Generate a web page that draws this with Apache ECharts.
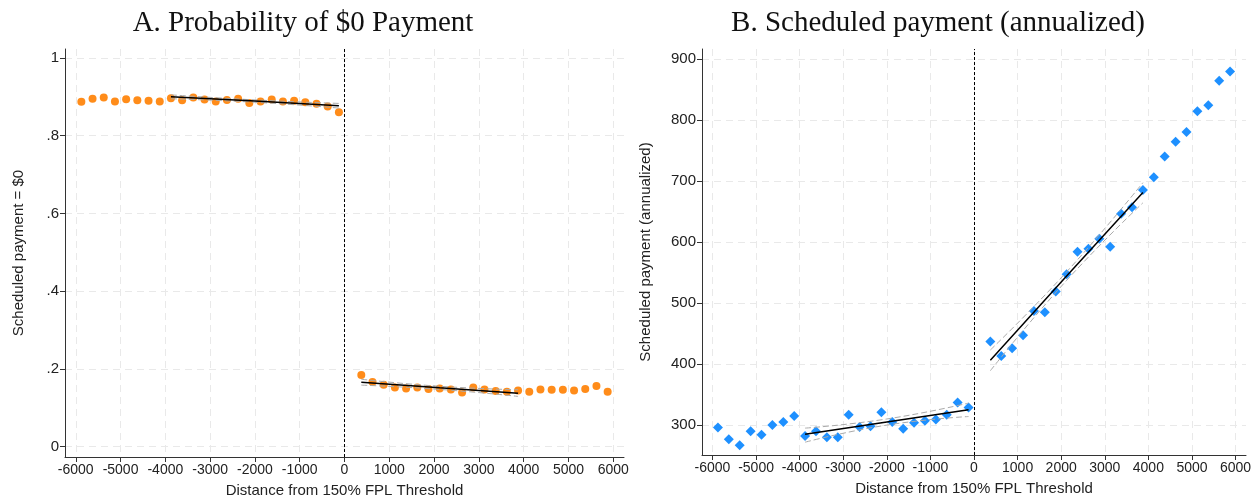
<!DOCTYPE html>
<html>
<head>
<meta charset="utf-8">
<script src="https://cdn.jsdelivr.net/npm/echarts@6/dist/echarts.min.js"></script>
<style>
html,body{margin:0;padding:0;background:#fff;}
#chart{width:1258px;height:499px;}
</style>
</head>
<body>
<div id="chart"></div>
<script>
// ---- Data ----
const binsLeft = [-5875,-5625,-5375,-5125,-4875,-4625,-4375,-4125,-3875,-3625,-3375,-3125,-2875,-2625,-2375,-2125,-1875,-1625,-1375,-1125,-875,-625,-375,-125];
const binsRight = [375,625,875,1125,1375,1625,1875,2125,2375,2625,2875,3125,3375,3625,3875,4125,4375,4625,4875,5125,5375,5625,5875];

const probLeft = [0.887,0.895,0.898,0.888,0.894,0.891,0.890,0.888,0.896,0.891,0.898,0.893,0.888,0.892,0.895,0.884,0.888,0.893,0.888,0.890,0.886,0.882,0.875,0.860];
const probRight = [0.184,0.166,0.159,0.152,0.149,0.152,0.148,0.149,0.147,0.139,0.152,0.147,0.143,0.141,0.144,0.141,0.147,0.146,0.146,0.144,0.148,0.156,0.141];

const payLeft = [296,277,267,290,284,300,305,315,282,290,280,280,317,297,298,321,305,294,304,307,309,317,337,329];
const payRight = [437,413,426,447,487,485,519,547,584,589,605,592,646,657,685,706,740,764,780,814,824,864,879];

// fitted lines and confidence bands (start, middle, end)
const fitXLeft = [-3875,-2000,-125];
const fitXRight = [375,2125,3875];

const probFitL = [0.900,0.889,0.877];
const probFitLUp = [0.905,0.892,0.883];
const probFitLLo = [0.895,0.886,0.871];
const probFitR = [0.1656,0.151,0.1373];
const probFitRUp = [0.173,0.155,0.146];
const probFitRLo = [0.158,0.147,0.129];

const payFitL = [285,305,325];
const payFitLUp = [295,310,336];
const payFitLLo = [272,300,314];
const payFitR = [406,544,681];
const payFitRUp = [423,551,697];
const payFitRLo = [389,537,664];

const xTicks = [-6000,-5000,-4000,-3000,-2000,-1000,0,1000,2000,3000,4000,5000,6000];
const probTicks = [0,0.2,0.4,0.6,0.8,1];
const payTicks = [300,400,500,600,700,800,900];

const titleA = 'A. Probability of $0 Payment';
const titleB = 'B. Scheduled payment (annualized)';
const xName = 'Distance from 150% FPL Threshold';
const yNameA = 'Scheduled payment = $0';
const yNameB = 'Scheduled payment (annualized)';

// ---- helpers ----
const zip = (xs, ys) => xs.map((x, i) => [x, ys[i]]);
const sans = 'Liberation Sans, Arial, sans-serif';
const gridLine = {show:true, lineStyle:{color:'#e9e9e9', type:[7,5], width:1}};

function xAxis(gridIndex){
  return {
    type:'value', gridIndex, min:-6240, max:6240,
    axisLine:{show:true, onZero:false, lineStyle:{color:'#333', width:1}},
    axisTick:{show:true, length:5, customValues:xTicks, lineStyle:{color:'#333'}},
    axisLabel:{customValues:xTicks, color:'#222', fontSize:14, fontFamily:sans, margin:6, formatter: v => '' + v},
    splitLine:gridLine,
    name:xName, nameLocation:'middle', nameGap:26,
    nameTextStyle:{color:'#222', fontSize:15, fontFamily:sans}
  };
}
function yAxis(gridIndex, min, max, ticks, name, gap, fmt){
  return {
    type:'value', gridIndex, min, max,
    axisLine:{show:true, onZero:false, lineStyle:{color:'#333', width:1}},
    axisTick:{show:true, length:5, customValues:ticks, lineStyle:{color:'#333'}},
    axisLabel:{customValues:ticks, color:'#222', fontSize:15, fontFamily:sans, margin:6, formatter:fmt},
    splitLine:gridLine,
    name, nameLocation:'middle', nameGap:gap, nameRotate:90,
    nameTextStyle:{color:'#222', fontSize:15, fontFamily:sans}
  };
}
const probFmt = v => { if (Math.abs(v) < 1e-9) return '0'; if (Math.abs(v-1) < 1e-9) return '1'; return ('' + (+v.toFixed(1))).replace(/^0\./, '.'); };

function fitSeries(xi, yi, xs, ys, color, width, dashed, smooth){
  return {
    type:'line', xAxisIndex:xi, yAxisIndex:yi, data:zip(xs, ys), symbol:'none', smooth:smooth,
    lineStyle:{color, width, type: dashed ? [6,3] : 'solid'}, z: dashed ? 3 : 4, silent:true, animation:false
  };
}
const threshold = {
  silent:true, symbol:'none', animation:false,
  label:{show:false},
  lineStyle:{color:'#000', type:[3,2], width:1},
  data:[{xAxis:0}]
};

const option = {
  animation:false,
  backgroundColor:'#fff',
  graphic:[
    {type:'text', x:303, y:23, style:{text:titleA, fontSize:29, fontFamily:'Liberation Serif, serif', fill:'#111', align:'center', verticalAlign:'middle'}},
    {type:'text', x:938, y:23, style:{text:titleB, fontSize:29, fontFamily:'Liberation Serif, serif', fill:'#111', align:'center', verticalAlign:'middle'}}
  ],
  grid:[
    {left:65, top:49, width:559, height:408, containLabel:false, outerBoundsMode:'none'},
    {left:702, top:49, width:544, height:406, containLabel:false, outerBoundsMode:'none'}
  ],
  xAxis:[xAxis(0), xAxis(1)],
  yAxis:[
    yAxis(0, -0.027, 1.023, probTicks, yNameA, 39, probFmt),
    yAxis(1, 251, 916, payTicks, yNameB, 49, v => '' + v)
  ],
  series:[
    {type:'scatter', xAxisIndex:0, yAxisIndex:0, data:zip(binsLeft, probLeft), symbol:'circle', symbolSize:8, itemStyle:{color:'#ff8c1a', opacity:1}, z:2, markLine:threshold},
    {type:'scatter', xAxisIndex:0, yAxisIndex:0, data:zip(binsRight, probRight), symbol:'circle', symbolSize:8, itemStyle:{color:'#ff8c1a', opacity:1}, z:2},
    fitSeries(0,0,fitXLeft, probFitLUp, '#aaa', 1, true, true),
    fitSeries(0,0,fitXLeft, probFitLLo, '#aaa', 1, true, true),
    fitSeries(0,0,fitXLeft, probFitL, '#000', 1.5, false, false),
    fitSeries(0,0,fitXRight, probFitRUp, '#aaa', 1, true, true),
    fitSeries(0,0,fitXRight, probFitRLo, '#aaa', 1, true, true),
    fitSeries(0,0,fitXRight, probFitR, '#000', 1.5, false, false),

    {type:'scatter', xAxisIndex:1, yAxisIndex:1, data:zip(binsLeft, payLeft), symbol:'diamond', symbolSize:10, itemStyle:{color:'#1e90ff', opacity:1}, z:2, markLine:threshold},
    {type:'scatter', xAxisIndex:1, yAxisIndex:1, data:zip(binsRight, payRight), symbol:'diamond', symbolSize:10, itemStyle:{color:'#1e90ff', opacity:1}, z:2},
    fitSeries(1,1,fitXLeft, payFitLUp, '#aaa', 1, true, true),
    fitSeries(1,1,fitXLeft, payFitLLo, '#aaa', 1, true, true),
    fitSeries(1,1,fitXLeft, payFitL, '#000', 1.5, false, false),
    fitSeries(1,1,fitXRight, payFitRUp, '#aaa', 1, true, true),
    fitSeries(1,1,fitXRight, payFitRLo, '#aaa', 1, true, true),
    fitSeries(1,1,fitXRight, payFitR, '#000', 1.5, false, false)
  ]
};
const chart = echarts.init(document.getElementById('chart'), null, {renderer:'canvas'});
chart.setOption(option);
</script>
</body>
</html>
